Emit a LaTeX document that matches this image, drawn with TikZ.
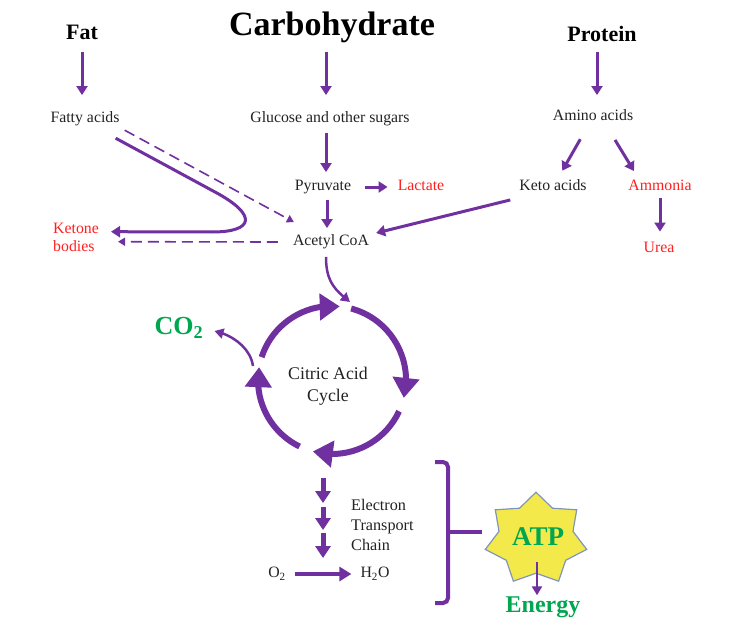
\documentclass[tikz,border=0pt]{standalone}
\usepackage{fontspec}
\setmainfont{Liberation Serif}
\usetikzlibrary{arrows.meta,bending,calc}
\definecolor{pur}{HTML}{7030A0}
\definecolor{redt}{HTML}{FF1F1F}
\definecolor{grn}{HTML}{00A650}
\definecolor{txt}{HTML}{222222}
\definecolor{stary}{HTML}{F4E94B}
\definecolor{staro}{HTML}{7F96B8}
\begin{document}
\begin{tikzpicture}[x=1pt,y=-1pt,
 lbl/.style={font=\fontsize{15.8}{19}\selectfont, text=txt, inner sep=0pt, text height=10.5pt, text depth=3pt},
 redl/.style={lbl, text=redt},
 ttl/.style={font=\bfseries\fontsize{22}{26}\selectfont, text=black, inner sep=0pt, text height=15pt, text depth=0pt},
 arr/.style={draw=pur, line width=3pt, -{Triangle[length=9pt,width=11pt]}},
 thinarr/.style={draw=pur, line width=2.5pt, -{Triangle[length=9pt,width=10pt]}},
 dasharr/.style={draw=pur, line width=1.6pt, dash pattern=on 11pt off 6pt, -{Triangle[length=7pt,width=8pt]}},
 cycarr/.style={draw=pur, line width=6pt, -{Triangle[length=20pt,width=26pt,flex]}},
 etcarr/.style={draw=pur, line width=5pt, -{Triangle[length=12pt,width=15pt]}},
 grnt/.style={font=\bfseries\fontsize{26}{30}\selectfont, text=grn, inner sep=0pt}
]
\useasboundingbox (0,0) rectangle (739,623);

% titles
\node[ttl] (fat) at (82,32) {Fat};
\node[font=\bfseries\fontsize{34}{40}\selectfont, inner sep=0pt, text height=23pt, text depth=8pt] (carb) at (332,28.5) {Carbohydrate};
\node[ttl] (protein) at (602,34) {Protein};

% labels
\node[lbl] (fatty) at (85,119) {Fatty acids};
\node[lbl] (glucose) at (330,119) {Glucose and other sugars};
\node[lbl] (amino) at (593,117) {Amino acids};
\node[lbl] (pyruvate) at (323,187) {Pyruvate};
\node[redl] (lactate) at (421,187) {Lactate};
\node[lbl] (keto) at (553,187) {Keto acids};
\node[redl] (ammonia) at (660,187) {Ammonia};
\node[redl] (urea) at (659,249) {Urea};
\node[lbl] (acetyl) at (331,242) {Acetyl CoA};
\node[font=\fontsize{15.8}{18.5}\selectfont, text=redt, align=left, inner sep=0pt, anchor=west] (ketone) at (53,237.2) {Ketone\\bodies};

% top arrows
\draw[arr, shorten <=12.5pt, shorten >=17pt] (fat.south) -- (fat.south |- fatty.north);
\draw[arr, shorten <=8pt, shorten >=17pt] ([xshift=-6pt]carb.south) -- ([xshift=-6pt]carb.south |- glucose.north);
\draw[arr, shorten <=10.5pt, shorten >=15pt] ([xshift=-5pt]protein.south) -- ([xshift=-5pt]protein.south |- amino.north);

% carbohydrate path
\draw[arr, shorten <=7pt, shorten >=8pt] ([xshift=-4pt]glucose.south) -- ([xshift=-4pt]glucose.south |- pyruvate.north);
\draw[arr, shorten <=6pt, shorten >=7pt] ([xshift=4pt]pyruvate.south) -- ([xshift=4pt]pyruvate.south |- acetyl.north);
\draw[arr, shorten <=14pt, shorten >=10pt] (pyruvate.east) -- (lactate.west);

% protein path
\draw[arr, shorten <=17.6pt, shorten >=10.7pt] (amino) -- (keto);
\draw[arr] ($(amino.south)+(22,16)$) -- ($(ammonia.north)+(-26,-9)$);
\draw[arr, shorten <=4pt, shorten >=10.5pt] (ammonia.south) -- (ammonia.south |- urea.north);
\draw[arr] ($(keto.south west)+(-9,6)$) -- ($(acetyl.east)+(7,-9)$);

% fat path
\draw[dasharr] ($(fatty.south east)+(5,4.25)$) -- ($(acetyl.north west)+(1,-13)$);
\draw[arr] ($(fatty.south east)+(-4,12.25)$) -- (215,192) .. controls (258,215) and (254,232) .. (212,232) -- ($(ketone.east)+(12,-5.5)$);
\draw[dasharr] ($(acetyl.west)+(-15,0)$) -- ($(ketone.east)+(19,4.5)$);

% into cycle
\coordinate (cycin) at (350,302);
\draw[thinarr] ($(acetyl.south)+(-5,8)$) .. controls +(0,25) and +(-15,-12) .. (cycin);

% citric acid cycle
\coordinate (cyc) at (332,380);
\node[font=\fontsize{17.8}{22}\selectfont, text=txt, align=center, inner sep=0pt] (cycletext) at (328,386) {Citric Acid\\Cycle};
\draw[cycarr] (cyc) ++(-162:74) arc[start angle=-162, end angle=-84, radius=74];
\draw[cycarr] (cyc) ++(-75:74) arc[start angle=-75, end angle=14, radius=74];
\draw[cycarr] (cyc) ++(25:74) arc[start angle=25, end angle=105, radius=74];
\draw[cycarr] (cyc) ++(116:74) arc[start angle=116, end angle=190, radius=74];

% CO2
\node[grnt] (co2) at (179,328) {CO\textsubscript{2}};
\coordinate (co2out) at (253,366);
\draw[thinarr] (co2out) .. controls +(-3,-20) and +(15,3) .. ($(co2.east)+(11,3)$);

% electron transport chain
\coordinate (e1) at (323,478);
\coordinate (e2) at (323,503);
\coordinate (e3) at (323,507);
\coordinate (e4) at (323,530);
\coordinate (e5) at (323,533);
\coordinate (e6) at (323,558);
\draw[etcarr] (e1) -- (e2);
\draw[etcarr] (e3) -- (e4);
\draw[etcarr] (e5) -- (e6);
\node[font=\fontsize{16.2}{20}\selectfont, text=txt, align=left, inner sep=0pt, anchor=west] (etc) at (351,525) {Electron\\Transport\\Chain};

\node[lbl] (o2) at (277,574) {O\textsubscript{2}};
\node[lbl] (h2o) at (375,574) {H\textsubscript{2}O};
\draw[draw=pur, line width=4.5pt, -{Triangle[length=12pt,width=14pt]}, shorten <=9pt, shorten >=9pt] (o2.east) -- (h2o.west);

% bracket
\draw[draw=pur, line width=4pt, rounded corners=5pt] (435,462) -- (448,462) -- (448,603) -- (435,603);
\draw[draw=pur, line width=4pt] (448,532) -- (482,532);

% ATP star
\filldraw[fill=stary, draw=staro, line width=1.2pt] (536,492.2) -- (552.5,508.2) -- (576.7,509.8) -- (573.0,531.4) -- (586.7,549.4) -- (565.7,560.3) -- (558.6,581.2) -- (536,573.2) -- (513.4,581.2) -- (506.3,560.3) -- (485.3,549.4) -- (499.0,531.4) -- (495.3,509.8) -- (519.5,508.2) -- cycle;
\node[font=\bfseries\fontsize{27}{30}\selectfont, text=grn, inner sep=0pt] (atp) at (538,537) {ATP};
\node[font=\bfseries\fontsize{24}{28}\selectfont, text=grn, inner sep=0pt] (energy) at (543,607) {Energy};
\coordinate (atpout) at (537,562);
\draw[thinarr, shorten >=1pt] (atpout) -- (atpout |- energy.north);
\end{tikzpicture}
\end{document}
